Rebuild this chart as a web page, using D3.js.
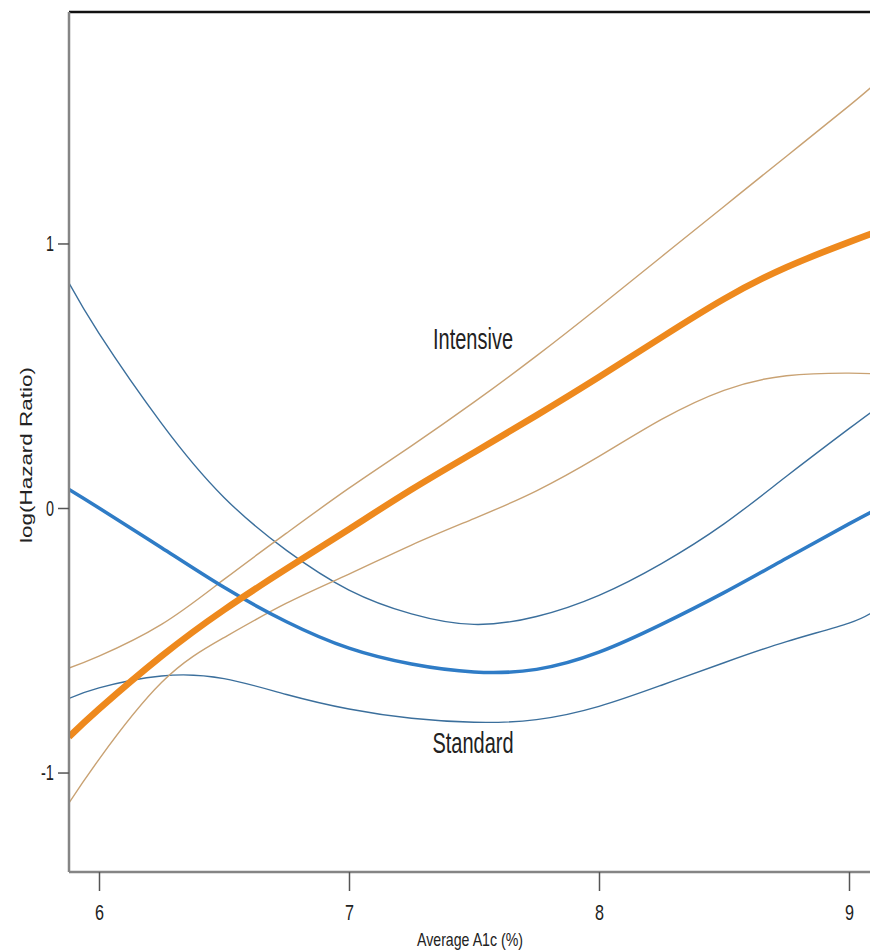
<!DOCTYPE html>
<html>
<head>
<meta charset="utf-8">
<script src="https://cdn.jsdelivr.net/npm/d3@7"></script>
<style>
  body { margin: 0; background: #fff; }
  text { font-family: "Liberation Sans", Arial, sans-serif; fill: #222; }
</style>
</head>
<body>
<svg id="svg1" width="870" height="952"></svg>
<script>
// A1c grid the curves were read at
var a1c = [5.88, 6.0, 6.25, 6.5, 6.75, 7.0, 7.25, 7.5, 7.75, 8.0, 8.25, 8.5, 8.75, 9.0, 9.1];

// Standard arm: estimate + band
var standardFit   = [0.07, 0.00, -0.15, -0.30, -0.43, -0.53, -0.59, -0.62, -0.61, -0.545, -0.44, -0.32, -0.19, -0.06, -0.01];
var standardUpper = [0.85, 0.66, 0.32, 0.04, -0.16, -0.31, -0.40, -0.44, -0.41, -0.33, -0.21, -0.06, 0.12, 0.30, 0.37];
var standardLower = [-0.72, -0.68, -0.635, -0.645, -0.705, -0.76, -0.795, -0.81, -0.80, -0.75, -0.67, -0.585, -0.505, -0.435, -0.39];

// Intensive arm: estimate + band
var intensiveFit   = [-0.865, -0.76, -0.56, -0.385, -0.23, -0.08, 0.07, 0.21, 0.35, 0.495, 0.645, 0.79, 0.91, 1.005, 1.04];
var intensiveUpper = [-0.605, -0.56, -0.44, -0.27, -0.095, 0.075, 0.235, 0.40, 0.575, 0.76, 0.95, 1.14, 1.33, 1.52, 1.60];
var intensiveLower = [-1.115, -0.95, -0.66, -0.49, -0.36, -0.25, -0.14, -0.04, 0.065, 0.195, 0.335, 0.445, 0.50, 0.51, 0.507];

var xTicks = [6, 7, 8, 9];
var yTicks = [-1, 0, 1];

var svg = d3.select('#svg1');

var plot = {l: 69, r: 870, t: 12, b: 872};

var xScale = d3.scaleLinear()
    .domain([5.88, 9.084])
    .range([plot.l, plot.r]);

var yScale = d3.scaleLinear()
    .domain([-1.376, 1.875])
    .range([plot.b, plot.t]);

svg.append('defs').append('clipPath')
    .attr('id', 'plotclip')
    .append('rect')
    .attr('x', plot.l)
    .attr('y', plot.t)
    .attr('width', plot.r - plot.l)
    .attr('height', plot.b - plot.t);

var line = d3.line()
    .x(function(d) { return xScale(d[0]); })
    .y(function(d) { return yScale(d[1]); })
    .curve(d3.curveNatural);

function pairs(vals) {
    return a1c.map(function(x, i) { return [x, vals[i]]; });
}

var curves = [
    {vals: standardUpper,  color: '#3b6f9c', width: 1.4},
    {vals: standardLower,  color: '#3b6f9c', width: 1.4},
    {vals: intensiveUpper, color: '#c9a273', width: 1.4},
    {vals: intensiveLower, color: '#c9a273', width: 1.4},
    {vals: standardFit,    color: '#2f7cc6', width: 3.5},
    {vals: intensiveFit,   color: '#ee891d', width: 6.5}
];

var lines = svg.append('g').attr('clip-path', 'url(#plotclip)');

lines.selectAll('path')
    .data(curves)
    .enter()
    .append('path')
    .attr('d', function(d) { return line(pairs(d.vals)); })
    .attr('fill', 'none')
    .attr('stroke', function(d) { return d.color; })
    .attr('stroke-width', function(d) { return d.width; });

// frame: black top, grey left + bottom
svg.append('line')
    .attr('x1', plot.l).attr('x2', plot.r)
    .attr('y1', plot.t).attr('y2', plot.t)
    .attr('stroke', '#111').attr('stroke-width', 2.5);

var xAxis = svg.append('g')
    .attr('transform', 'translate(0,' + plot.b + ')')
    .call(d3.axisBottom(xScale).tickValues(xTicks).tickFormat(d3.format('d'))
        .tickSize(19).tickPadding(13).tickSizeOuter(0));

var yAxis = svg.append('g')
    .attr('transform', 'translate(' + plot.l + ',0)')
    .call(d3.axisLeft(yScale).tickValues(yTicks).tickFormat(function(d) { return d < 0 ? '-' + (-d) : d; })
        .tickSize(11).tickPadding(4).tickSizeOuter(0));

[xAxis, yAxis].forEach(function(ax) {
    ax.select('.domain').attr('stroke', '#858585').attr('stroke-width', 2.5);
    ax.selectAll('.tick line').attr('stroke', '#555').attr('stroke-width', 1.5);
    ax.selectAll('.tick text')
        .style('font-size', '22px')
        .style('font-family', '"Liberation Sans", Arial, sans-serif')
        .attr('fill', '#333');
});
xAxis.select('.domain').attr('d', 'M' + plot.l + ',0H' + plot.r);
yAxis.select('.domain').attr('d', 'M0,' + plot.t + 'V' + plot.b);

// squeeze digits to look like the narrow original
xAxis.selectAll('.tick text')
    .attr('textLength', 9)
    .attr('lengthAdjust', 'spacingAndGlyphs');
yAxis.selectAll('.tick text')
    .attr('textLength', function(d) { return d < 0 ? 13 : 8; })
    .attr('lengthAdjust', 'spacingAndGlyphs');

svg.append('text')
    .attr('transform', 'translate(' + [32, 455] + ') rotate(270)')
    .attr('text-anchor', 'middle')
    .attr('textLength', 176)
    .attr('lengthAdjust', 'spacingAndGlyphs')
    .style('font-size', '17px')
    .text('log(Hazard Ratio)');

svg.append('text')
    .attr('x', 470)
    .attr('y', 946)
    .attr('text-anchor', 'middle')
    .attr('textLength', 106)
    .attr('lengthAdjust', 'spacingAndGlyphs')
    .style('font-size', '19px')
    .text('Average A1c (%)');

svg.append('text')
    .attr('x', 473)
    .attr('y', 349)
    .attr('text-anchor', 'middle')
    .attr('textLength', 80)
    .attr('lengthAdjust', 'spacingAndGlyphs')
    .style('font-size', '30px')
    .text('Intensive');

svg.append('text')
    .attr('x', 473)
    .attr('y', 753)
    .attr('text-anchor', 'middle')
    .attr('textLength', 81)
    .attr('lengthAdjust', 'spacingAndGlyphs')
    .style('font-size', '29px')
    .text('Standard');
</script>
</body>
</html>
